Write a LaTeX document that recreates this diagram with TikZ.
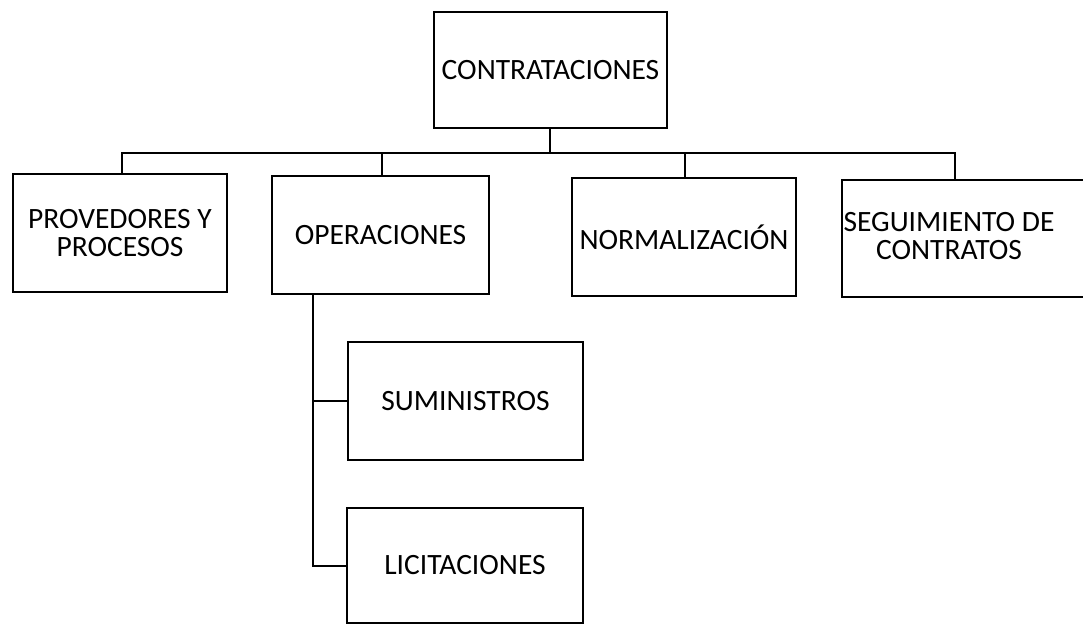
\documentclass[tikz,border=0pt]{standalone}
\usepackage{fontspec}
\setmainfont{Carlito}
\usepackage{tikz}
\usetikzlibrary{calc,positioning}
\tikzset{
	orgbox/.style={draw, line width=1.8pt, inner sep=0pt, align=center},
	orgtext/.style={align=center, inner sep=0pt, font=\fontsize{29.5}{28}\selectfont},
	conn/.style={line width=2pt},
}

\begin{document}
\begin{tikzpicture}[x=1pt,y=-1pt]
		\useasboundingbox (0,0) rectangle (1083,625);
		\clip (0,0) rectangle (1083,625);
		
		\node[orgbox, orgtext, minimum width=233pt, minimum height=116pt] (contr) at (550.5,70) {CONTRATACIONES};
		
		\node[orgbox, orgtext, minimum width=214pt, minimum height=118pt] (prov) at (120,233) {PROVEDORES Y\\PROCESOS};
		\node[orgbox, orgtext, minimum width=217pt, minimum height=118pt] (oper) at (380.5,235) {OPERACIONES};
		\node[orgbox, orgtext, minimum width=224pt, minimum height=118pt] (norm) at (684,237) {NORMALIZACIÓN};
		\node[orgbox, minimum width=270pt, minimum height=117pt] (seg) at (977,238.5) {};
		\node[orgtext] (segtxt) at (949,236) {SEGUIMIENTO DE\\CONTRATOS};
		
		\node[orgbox, orgtext, minimum width=235pt, minimum height=118pt] (sum) at (465.5,401) {SUMINISTROS};
		\node[orgbox, orgtext, minimum width=236pt, minimum height=115pt] (lic) at (465,565.5) {LICITACIONES};
		
		\coordinate (bus) at (550,153);
		\coordinate (trunk) at (313,294);
	
		\draw[conn] ([xshift=-0.5pt]contr.south) -- (bus);
		\draw[conn] ([xshift=2pt]prov.north) |- (bus);
		\draw[conn] ([xshift=1.5pt]oper.north) |- (bus);
		\draw[conn] ([xshift=1pt]norm.north) |- (bus);
		\draw[conn] ([xshift=-22pt]seg.north) |- (bus);
		
		\draw[conn] (trunk) |- (lic.west);
		\draw[conn] (trunk |- sum.west) -- (sum.west);
	\end{tikzpicture}
\end{document}
